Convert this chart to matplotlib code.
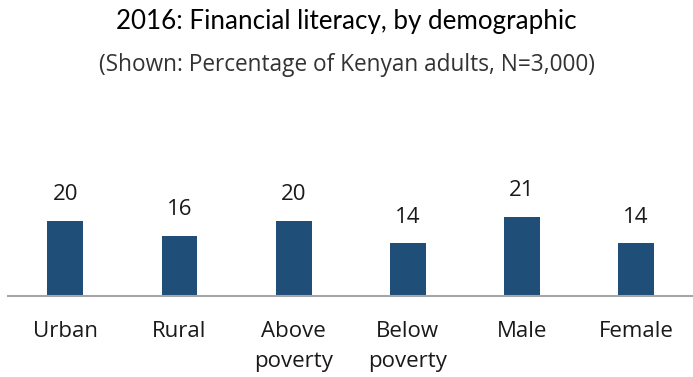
import matplotlib.pyplot as plt

categories = ["Urban", "Rural", "Above\npoverty", "Below\npoverty", "Male", "Female"]
values = [20, 16, 20, 14, 21, 14]

bar_color = "#1f4e79"

fig = plt.figure(figsize=(6.93, 3.77), dpi=100)
ax = fig.add_axes([0.012, 0.215, 0.988, 0.40])

x = range(len(categories))
ax.bar(x, values, width=0.315, color=bar_color)

for i, v in enumerate(values):
    ax.annotate(str(v), (i, v), xytext=(0, 11), textcoords="offset points",
                ha="center", va="bottom", fontsize=16, family="Open Sans",
                color="#1a1a1a")

ax.set_xlim(-0.5, len(categories) - 0.5)
ax.set_ylim(0, 40)
ax.set_xticks(list(x))
ax.set_xticklabels(categories, fontsize=16, family="Open Sans", color="#1a1a1a",
                   va="top")
for lbl in ax.get_xticklabels():
    lbl.set_linespacing(1.55)
ax.tick_params(axis="x", length=0, pad=18)
ax.set_yticks([])

for side in ["top", "right", "left"]:
    ax.spines[side].set_visible(False)
ax.spines["bottom"].set_color("#a6a6a6")
ax.spines["bottom"].set_linewidth(1.5)

fig.text(0.5, 1 - 21 / 377, "2016: Financial literacy, by demographic", ha="center",
         va="center", fontsize=18.7, family="Lato", color="#000000")
fig.text(0.5, 1 - 65 / 377, "(Shown: Percentage of Kenyan adults, N=3,000)", ha="center",
         va="center", fontsize=16.3, family="Open Sans", color="#333333")

fig.savefig("out.png", dpi=100)
